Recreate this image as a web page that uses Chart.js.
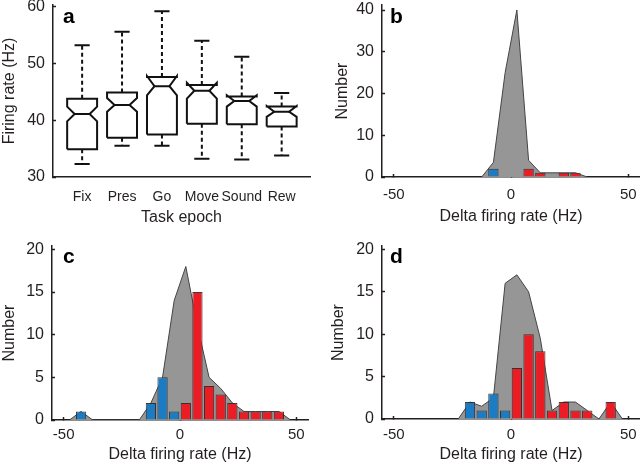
<!DOCTYPE html>
<html>
<head>
<meta charset="utf-8">
<title>Firing rate by task epoch</title>
<script src="https://cdn.jsdelivr.net/npm/chart.js@4.4.1/dist/chart.umd.min.js"></script>
<style>
  html, body { margin: 0; padding: 0; background: #fff; }
  #fig { position: relative; width: 640px; height: 464px; overflow: hidden; }
  #fig canvas { position: absolute; }
</style>
</head>
<body>
<div id="fig">
  <canvas id="chartA" width="320" height="232" style="left:0;top:0"></canvas>
  <canvas id="chartB" width="320" height="232" style="left:320px;top:0"></canvas>
  <canvas id="chartC" width="320" height="232" style="left:0;top:232px"></canvas>
  <canvas id="chartD" width="320" height="232" style="left:320px;top:232px"></canvas>
</div>
<script>
// Panel a: firing rate per task epoch (notched boxplots)
const EPOCHS = ['Fix', 'Pres', 'Go', 'Move', 'Sound', 'Rew'];
const EPOCH_POS = [1, 2, 3, 4, 5, 6];
const WHISKER_LO = [32.3, 35.5, 35.5, 33.2, 33.1, 33.8];
const Q1 = [34.9, 36.9, 37.5, 39.4, 39.3, 38.9];
const NOTCH_LO = [39.8, 41.5, 44.4, 43.8, 42.4, 40.6];
const MEDIAN = [41.1, 42.7, 46.0, 45.2, 43.4, 41.5];
const NOTCH_HI = [42.4, 43.9, 47.8, 46.6, 44.4, 42.5];
const Q3 = [43.8, 44.9, 47.6, 46.2, 44.2, 42.4];
const WHISKER_HI = [53.2, 55.6, 59.2, 54.0, 51.2, 44.8];
const RATE_TICKS = [30, 40, 50, 60];

// Panels b-d: delta firing rate histograms (5 Hz bins)
const DELTA_TICKS = [-50, 0, 50];

const B_ALL_X = [-12.5, -7.5, -2.5, 2.5, 7.5, 12.5, 17.5, 22.5, 27.5, 32.5];
const B_ALL_N = [0, 3.5, 25, 40, 4, 1, 1, 1, 1, 0];
const B_DEC_X = [-7.5];
const B_DEC_N = [2];
const B_INC_X = [7.5, 12.5, 22.5, 27.5];
const B_INC_N = [2, 1, 1, 1];
const B_TICKS = [0, 10, 20, 30, 40];

const C_ALL_X = [-47.5, -42.5, -37.5, -32.5, -27.5, -22.5, -17.5, -12.5, -7.5, -2.5, 2.5, 7.5, 12.5, 17.5, 22.5, 27.5, 32.5, 37.5, 42.5, 47.5];
const C_ALL_N = [0, 1, 0, 0, 0, 0, 0, 2, 5, 14, 18, 11, 5, 3.7, 2, 1, 1, 1, 1, 0];
const C_DEC_X = [-42.5, -12.5, -7.5, -2.5];
const C_DEC_N = [1, 2, 5, 1];
const C_INC_X = [2.5, 7.5, 12.5, 17.5, 22.5, 27.5, 32.5, 37.5, 42.5];
const C_INC_N = [2, 15, 4, 3, 2, 1, 1, 1, 1];
const C_TICKS = [0, 5, 10, 15, 20];

const D_ALL_X = [-22.5, -17.5, -12.5, -7.5, -2.5, 2.5, 7.5, 12.5, 17.5, 22.5, 27.5, 32.5, 37.5, 42.5, 47.5];
const D_ALL_N = [0, 2, 1.5, 2.5, 16, 17, 15, 9.5, 1, 2, 2, 1, 0, 2, 0];
const D_DEC_X = [-17.5, -12.5, -7.5, -2.5];
const D_DEC_N = [2, 1, 3, 1];
const D_INC_X = [2.5, 7.5, 12.5, 17.5, 22.5, 27.5, 32.5, 42.5];
const D_INC_N = [6, 10, 8, 1, 2, 1, 1, 2];
const D_TICKS = [0, 5, 10, 15, 20];

// Styles
const FONT = "'Liberation Sans', Arial, Helvetica, sans-serif";
const INK = '#231f20';
const BLUE = '#1b7cc4';
const RED = '#ec1c24';
const GRAY = '#969696';
const GRAY_EDGE = '#444444';
const BAR_EDGE = 'rgba(45,35,35,0.9)';
const BOX_HALF = 0.375;   // half box width, in epoch units
const NOTCH_IN = 0.5;     // notch depth as share of half width
const CAP_HALF = 0.19;

function pairs(xs, ys) {
    return xs.map((x, i) => ({ x: x, y: ys[i] }));
}

function fixedTicks(values) {
    return scale => { scale.ticks = values.map(v => ({ value: v })); };
}

// Panel letter drawn in the corner of the plot area
const panelLetter = {
    id: 'panelLetter',
    afterDraw(chart, args, opts) {
        const { ctx, chartArea } = chart;
        ctx.save();
        ctx.font = 'bold 21px ' + FONT;
        ctx.fillStyle = '#000';
        ctx.textBaseline = 'alphabetic';
        ctx.fillText(opts.text, chartArea.left + opts.dx, chartArea.top + opts.dy);
        ctx.restore();
    }
};

function xScale(o) {
    return {
        type: 'linear',
        position: 'bottom',
        min: o.min,
        max: o.max,
        offset: false,
        afterBuildTicks: fixedTicks(o.ticks),
        afterFit: s => { s.height = o.height; s.paddingLeft = 0; s.paddingRight = 0; },
        grid: {
            display: o.marks, offset: false, drawOnChartArea: false, drawTicks: o.marks,
            tickLength: -3, color: INK, tickWidth: 1.5
        },
        border: { display: true, color: INK, width: 1.5 },
        ticks: {
            autoSkip: false, maxRotation: 0, minRotation: 0,
            padding: o.pad, color: INK,
            font: { family: FONT, size: o.size },
            callback: o.label
        },
        title: {
            display: true, text: o.title, color: INK,
            font: { family: FONT, size: 16 },
            padding: { top: 0, bottom: o.titlePad }
        }
    };
}

function yScale(o) {
    return {
        type: 'linear',
        position: 'left',
        min: o.min,
        max: o.max,
        afterBuildTicks: fixedTicks(o.ticks),
        afterFit: s => { s.width = o.width; s.paddingTop = 0; s.paddingBottom = 0; },
        grid: {
            display: true, offset: false, drawOnChartArea: false, drawTicks: true,
            tickLength: -3, color: INK, tickWidth: 1.5
        },
        border: { display: true, color: INK, width: 1.5 },
        ticks: { padding: 11, color: INK, font: { family: FONT, size: 16 } },
        title: {
            display: true, text: o.title, color: INK,
            font: { family: FONT, size: 16 },
            padding: { top: o.titlePad, bottom: 0 }
        }
    };
}

// Outline of each notched box, one polygon per epoch, split by gaps
function boxOutlines() {
    const pts = [];
    EPOCH_POS.forEach((c, i) => {
        const L = c - BOX_HALF, R = c + BOX_HALF;
        const iL = c - BOX_HALF * NOTCH_IN, iR = c + BOX_HALF * NOTCH_IN;
        pts.push(
            { x: L, y: Q1[i] }, { x: L, y: NOTCH_LO[i] }, { x: iL, y: MEDIAN[i] },
            { x: L, y: NOTCH_HI[i] }, { x: L, y: Q3[i] }, { x: R, y: Q3[i] },
            { x: R, y: NOTCH_HI[i] }, { x: iR, y: MEDIAN[i] }, { x: R, y: NOTCH_LO[i] },
            { x: R, y: Q1[i] }, { x: L, y: Q1[i] }, { x: c, y: null }
        );
    });
    return pts;
}

function medianLines() {
    const pts = [];
    EPOCH_POS.forEach((c, i) => {
        pts.push({ x: c - BOX_HALF * NOTCH_IN, y: MEDIAN[i] }, { x: c + BOX_HALF * NOTCH_IN, y: MEDIAN[i] }, { x: c, y: null });
    });
    return pts;
}

function whiskerLines() {
    const pts = [];
    EPOCH_POS.forEach((c, i) => {
        pts.push({ x: c, y: Q3[i] }, { x: c, y: WHISKER_HI[i] }, { x: c, y: null });
        pts.push({ x: c, y: Q1[i] }, { x: c, y: WHISKER_LO[i] }, { x: c, y: null });
    });
    return pts;
}

function whiskerCaps() {
    const pts = [];
    EPOCH_POS.forEach((c, i) => {
        pts.push({ x: c - CAP_HALF, y: WHISKER_HI[i] }, { x: c + CAP_HALF, y: WHISKER_HI[i] }, { x: c, y: null });
        pts.push({ x: c - CAP_HALF, y: WHISKER_LO[i] }, { x: c + CAP_HALF, y: WHISKER_LO[i] }, { x: c, y: null });
    });
    return pts;
}

function boxLine(data, dash) {
    return {
        data: data,
        borderColor: '#111',
        borderWidth: 2,
        borderDash: dash || [],
        borderJoinStyle: 'miter',
        pointRadius: 0,
        fill: false,
        tension: 0,
        spanGaps: false
    };
}

const baseOptions = {
    responsive: false,
    animation: false,
    events: [],
    plugins: { legend: { display: false }, tooltip: { enabled: false } }
};

// Panel a
new Chart(document.getElementById('chartA'), {
    type: 'line',
    data: {
        datasets: [
            boxLine(whiskerLines(), [4, 3]),
            boxLine(whiskerCaps()),
            boxLine(boxOutlines()),
            boxLine(medianLines())
        ]
    },
    options: Object.assign({}, baseOptions, {
        layout: { padding: { top: 5, right: 10, left: 0, bottom: 0 } },
        plugins: Object.assign({}, baseOptions.plugins, { panelLetter: { text: 'a', dx: 10, dy: 18 } }),
        scales: {
            x: xScale({ min: 0.27, max: 6.71, ticks: EPOCH_POS, height: 55, pad: 12, size: 14, marks: false,
                        title: 'Task epoch', titlePad: 5, label: (v, i) => EPOCHS[i] }),
            y: yScale({ min: 30, max: 60.3, ticks: RATE_TICKS, width: 53, title: 'Firing rate (Hz)', titlePad: 0 })
        }
    }),
    plugins: [panelLetter]
});

// Panels b-d
function histogramChart(id, p) {
    const bar = (xs, ns, color) => ({
        data: pairs(xs, ns),
        backgroundColor: color,
        borderColor: BAR_EDGE,
        borderWidth: 1,
        grouped: false,
        barPercentage: 1,
        categoryPercentage: 0.88,
        order: 1
    });
    return new Chart(document.getElementById(id), {
        type: 'bar',
        data: {
            datasets: [
                bar(p.decX, p.decN, BLUE),
                bar(p.incX, p.incN, RED),
                {
                    type: 'line',
                    data: pairs(p.allX, p.allN),
                    fill: 'origin',
                    backgroundColor: GRAY,
                    borderColor: GRAY_EDGE,
                    borderWidth: 1,
                    pointRadius: 0,
                    tension: 0,
                    order: 2
                }
            ]
        },
        options: Object.assign({}, baseOptions, {
            layout: { padding: { top: p.top, right: p.right, left: 0, bottom: 0 } },
            plugins: Object.assign({}, baseOptions.plugins, { panelLetter: p.letter }),
            scales: {
                x: xScale({ min: -55, max: 55, ticks: DELTA_TICKS, height: p.xHeight, pad: p.xPad, size: 15, marks: true,
                            title: 'Delta firing rate (Hz)', titlePad: p.titlePad }),
                y: yScale({ min: 0, max: p.yMax, ticks: p.yTicks, width: p.yWidth, title: 'Number', titlePad: p.yTitlePad })
            }
        }),
        plugins: [panelLetter]
    });
}

histogramChart('chartB', {
    allX: B_ALL_X, allN: B_ALL_N, decX: B_DEC_X, decN: B_DEC_N, incX: B_INC_X, incN: B_INC_N,
    yTicks: B_TICKS, yMax: 41.2, top: 5, right: 0, xHeight: 55, xPad: 12, titlePad: 6,
    yWidth: 62, yTitlePad: 13, letter: { text: 'b', dx: 8, dy: 18 }
});

histogramChart('chartC', {
    allX: C_ALL_X, allN: C_ALL_N, decX: C_DEC_X, decN: C_DEC_N, incX: C_INC_X, incN: C_INC_N,
    yTicks: C_TICKS, yMax: 20.4, top: 14, right: 12, xHeight: 44, xPad: 9, titlePad: 0,
    yWidth: 52, yTitlePad: 0, letter: { text: 'c', dx: 11, dy: 17 }
});

histogramChart('chartD', {
    allX: D_ALL_X, allN: D_ALL_N, decX: D_DEC_X, decN: D_DEC_N, incX: D_INC_X, incN: D_INC_N,
    yTicks: D_TICKS, yMax: 20.4, top: 14, right: 0, xHeight: 45, xPad: 10, titlePad: 0,
    yWidth: 62, yTitlePad: 9, letter: { text: 'd', dx: 8, dy: 17 }
});
</script>
</body>
</html>
